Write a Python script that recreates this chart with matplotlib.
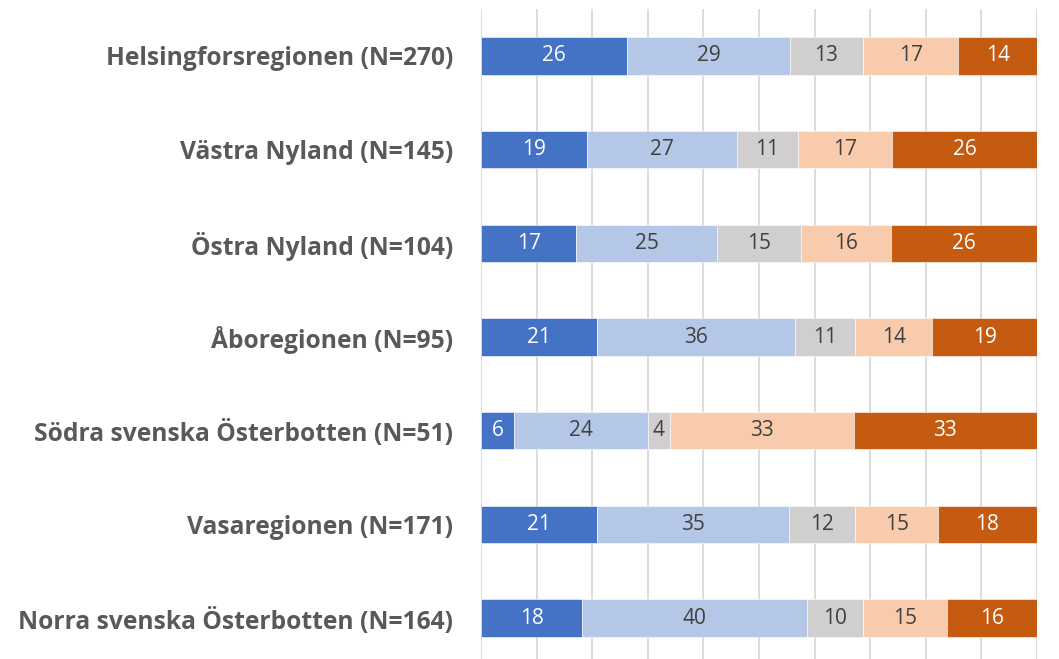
import numpy as np
import matplotlib.pyplot as plt

# data ---------------------------------------------------------------
regioner = ["Helsingforsregionen (N=270)",
            "Västra Nyland (N=145)",
            "Östra Nyland (N=104)",
            "Åboregionen (N=95)",
            "Södra svenska Österbotten (N=51)",
            "Vasaregionen (N=171)",
            "Norra svenska Österbotten (N=164)"]

serie1 = [26, 19, 17, 21, 6, 21, 18]
serie2 = [29, 27, 25, 36, 24, 35, 40]
serie3 = [13, 11, 15, 11, 4, 12, 10]
serie4 = [17, 17, 16, 14, 33, 15, 15]
serie5 = [14, 26, 26, 19, 33, 18, 16]

farger = ['#4472C4', '#B4C7E7', '#D0CECE', '#F8CBAD', '#C55A11']
textfarg = ['white', '#404040', '#404040', '#404040', 'white']
#---------------------------------------------------------------------

varden = np.array([serie1, serie2, serie3, serie4, serie5], dtype=float)
andel = varden / varden.sum(axis=0) * 100   # 100% staplad som i Excel

fig = plt.figure(figsize=(10.59, 6.59), dpi=100)
ax = fig.add_axes([0.4542, -0.0091, 0.525, 0.9954])

y = np.arange(len(regioner))
vanster = np.zeros(len(regioner))
for i in range(len(varden)):
    ax.barh(y, andel[i], left=vanster, height=0.4, color=farger[i],
            edgecolor='white', linewidth=0.4, zorder=3)
    for j in range(len(regioner)):
        ax.text(vanster[j] + andel[i][j] / 2, y[j], "%d" % varden[i][j],
                ha='center', va='center', color=textfarg[i],
                fontsize=15, family='Open Sans', zorder=4)
    vanster += andel[i]

ax.set_xlim(0, 100)
ax.set_ylim(len(regioner) - 0.5, -0.5)
ax.set_xticks(np.arange(0, 101, 10))
ax.xaxis.grid(True, color='#D9D9D9', linewidth=1.3, zorder=0)
ax.tick_params(axis='x', length=0, labelbottom=False)
ax.tick_params(axis='y', length=0, pad=20)
ax.set_yticks(y)
ax.set_yticklabels(regioner, fontsize=17.7, fontweight='bold',
                   color='#595959', family='Open Sans')
for s in ax.spines.values():
    s.set_visible(False)

plt.savefig('out.png', dpi=100)
